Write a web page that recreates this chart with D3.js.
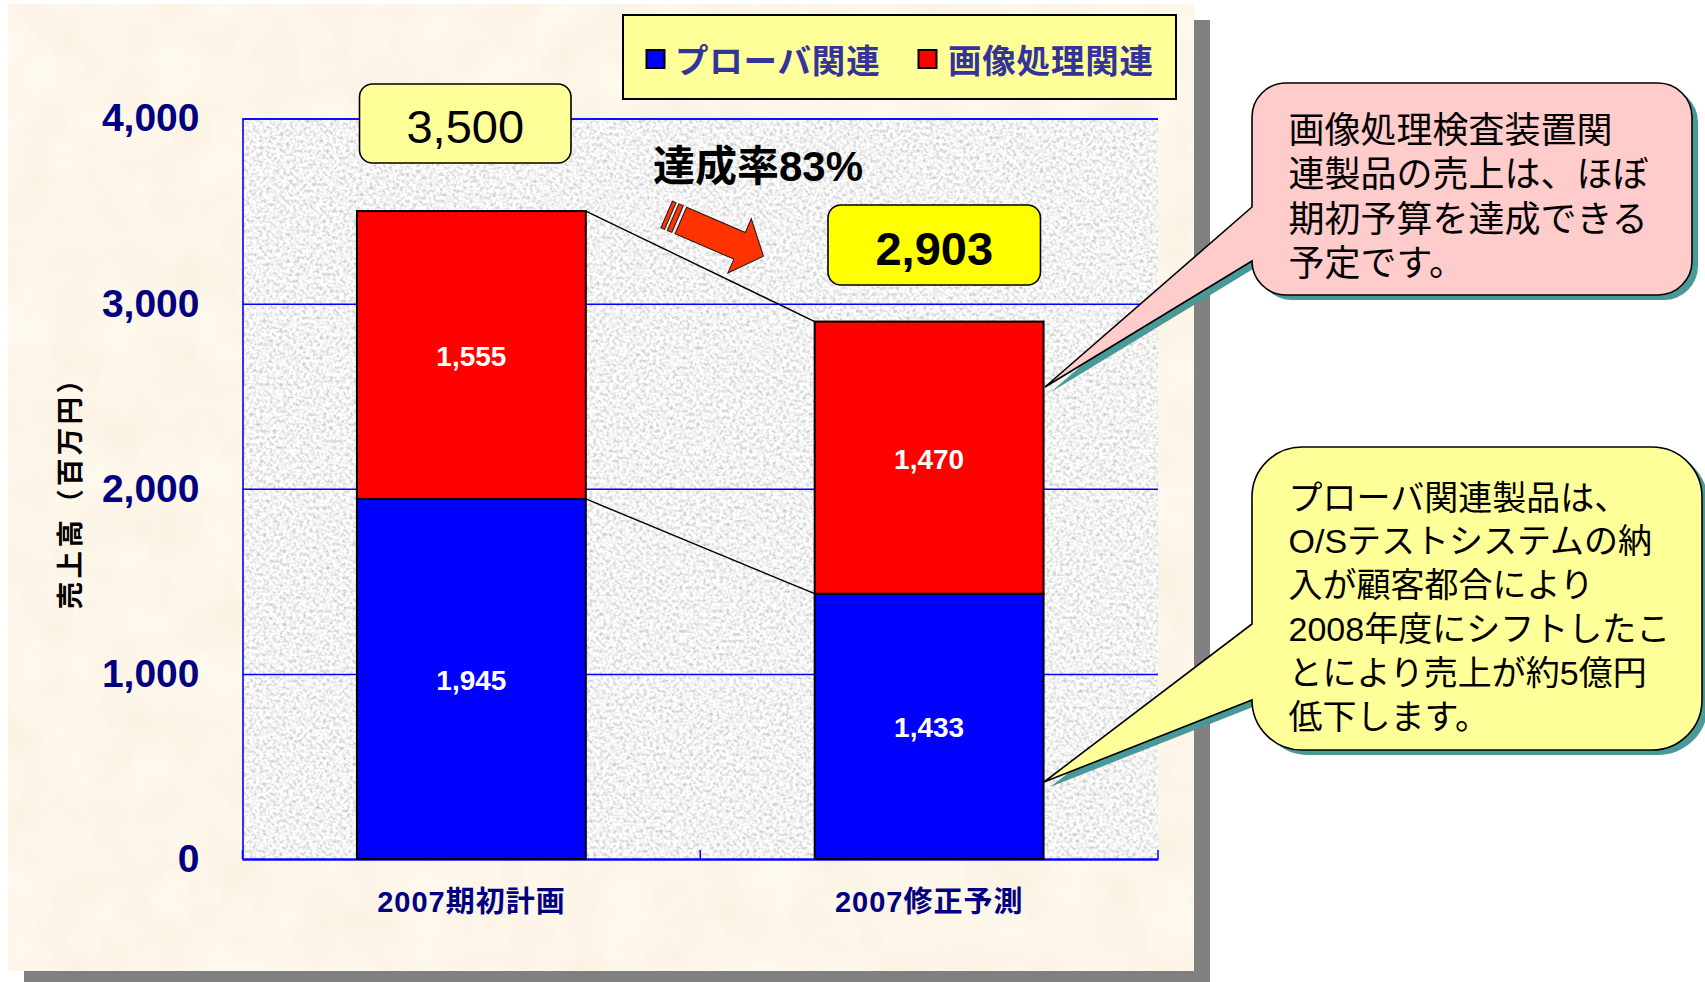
<!DOCTYPE html>
<html>
<head>
<meta charset="utf-8">
<script src="https://cdn.jsdelivr.net/npm/d3@7"></script>
<style>
  html, body { margin: 0; padding: 0; background: #ffffff; }
  svg { display: block; }
</style>
</head>
<body>
<svg id="chart" width="1705" height="982"></svg>
<script>
// ---------------- data ----------------
const categories = ["2007期初計画", "2007修正予測"];
const seriesNames = ["プローバ関連", "画像処理関連"];
const probeValues = [1945, 1433];
const imageValues = [1555, 1470];
const totalValues = [3500, 2903];
const yTickValues = [0, 1000, 2000, 3000, 4000];
const yAxisTitle = "売上高（百万円）";
const rateLabel = "達成率83%";
const noteImageLines = ["画像処理検査装置関", "連製品の売上は、ほぼ", "期初予算を達成できる", "予定です。"];
const noteProbeLines = ["プローバ関連製品は、", "O/Sテストシステムの納", "入が顧客都合により", "2008年度にシフトしたこ", "とにより売上が約5億円", "低下します。"];

// ---------------- styles / layout ----------------
const seriesColors = ["#0000FF", "#FF0000"];
const plot = { left: 242.5, right: 1158, top: 118.5, bottom: 859 };
const latin = "'Liberation Sans', Arial, 'Noto Sans CJK JP', sans-serif";
const cjk = "'Noto Sans CJK JP', 'Liberation Sans', sans-serif";

const svg = d3.select("#chart");
const defs = svg.append("defs");

// textures
const fg = defs.append("filter").attr("id", "granite")
  .attr("x", 0).attr("y", 0).attr("width", "100%").attr("height", "100%");
fg.append("feTurbulence").attr("type", "fractalNoise").attr("baseFrequency", 0.3)
  .attr("numOctaves", 3).attr("seed", 7);
fg.append("feColorMatrix").attr("type", "matrix")
  .attr("values", "0.95 0 0 0 0.42  0.95 0 0 0 0.42  0.95 0 0 0 0.42  0 0 0 0 1");

const fb = defs.append("filter").attr("id", "paper")
  .attr("x", 0).attr("y", 0).attr("width", "100%").attr("height", "100%");
fb.append("feTurbulence").attr("type", "fractalNoise").attr("baseFrequency", 0.02)
  .attr("numOctaves", 3).attr("seed", 3);
fb.append("feColorMatrix").attr("type", "matrix")
  .attr("values", "0.08 0 0 0 0.94  0.10 0 0 0 0.87  0.14 0 0 0 0.74  0 0 0 0 1");

// page panels
svg.append("rect").attr("x", 24).attr("y", 20).attr("width", 1186).attr("height", 980).attr("fill", "#808080");
svg.append("rect").attr("x", 8).attr("y", 4).attr("width", 1186).attr("height", 967)
  .attr("fill", "#FAEBD2").attr("filter", "url(#paper)");

// scales
const x = d3.scaleBand().domain(categories).range([plot.left, plot.right])
  .paddingInner(0.5).paddingOuter(0.25);
const y = d3.scaleLinear().domain([0, 4000]).range([plot.bottom, plot.top]);

// plot background
svg.append("rect").attr("x", plot.left).attr("y", plot.top)
  .attr("width", plot.right - plot.left).attr("height", plot.bottom - plot.top)
  .attr("fill", "#e4e4e4").attr("filter", "url(#granite)");

// y axis with gridlines
const yAxis = svg.append("g").attr("transform", `translate(${plot.left},0)`)
  .call(d3.axisLeft(y).tickValues(yTickValues).tickFormat(d3.format(","))
    .tickSize(-(plot.right - plot.left)).tickPadding(43));
yAxis.select(".domain").attr("stroke", "#0000FF").attr("stroke-width", 1.6);
yAxis.selectAll(".tick line").attr("stroke", "#0000FF").attr("stroke-width", 1.5);
yAxis.selectAll(".tick text").attr("fill", "#000080").attr("font-family", latin)
  .attr("font-weight", "bold").attr("font-size", 39);

// x axis
const xAxis = svg.append("g").attr("transform", `translate(0,${plot.bottom})`)
  .call(d3.axisBottom(x).tickSize(0).tickPadding(0));
xAxis.select(".domain").attr("stroke", "#0000FF").attr("stroke-width", 2);
xAxis.selectAll(".tick text").attr("fill", "#000080").attr("font-family", latin)
  .attr("font-weight", "bold").attr("font-size", 29).attr("letter-spacing", 1)
  .attr("dy", 0).attr("y", 43).attr("dominant-baseline", "central");
// category separator ticks (inside)
const sepTicks = [plot.left, (plot.left + plot.right) / 2, plot.right];
svg.append("g").selectAll("line").data(sepTicks).join("line")
  .attr("x1", d => d).attr("x2", d => d)
  .attr("y1", plot.bottom).attr("y2", plot.bottom - 9)
  .attr("stroke", "#0000FF").attr("stroke-width", 1.5);

// y axis title
svg.append("text").attr("transform", "translate(68,486) rotate(-90)")
  .attr("text-anchor", "middle").attr("dominant-baseline", "central")
  .attr("font-family", cjk).attr("font-weight", "bold").attr("font-size", 27.5)
  .attr("letter-spacing", 3.3)
  .attr("fill", "#000").text(yAxisTitle);

// stacked data
const table = categories.map((c, i) => ({ cat: c, probe: probeValues[i], image: imageValues[i] }));
const stacked = d3.stack().keys(["probe", "image"])(table);

// connector (series) lines
const bw = x.bandwidth();
stacked.forEach(layer => {
  for (let i = 0; i < layer.length - 1; i++) {
    svg.append("line")
      .attr("x1", x(categories[i]) + bw).attr("y1", y(layer[i][1]))
      .attr("x2", x(categories[i + 1])).attr("y2", y(layer[i + 1][1]))
      .attr("stroke", "#000").attr("stroke-width", 1.4);
  }
});

// bars
const gBars = svg.append("g");
stacked.forEach((layer, li) => {
  gBars.selectAll(null).data(layer).join("rect")
    .attr("x", d => x(d.data.cat)).attr("width", bw)
    .attr("y", d => y(d[1])).attr("height", d => y(d[0]) - y(d[1]))
    .attr("fill", seriesColors[li]).attr("stroke", "#000").attr("stroke-width", 2);
  gBars.selectAll(null).data(layer).join("text")
    .attr("x", d => x(d.data.cat) + bw / 2)
    .attr("y", d => (y(d[0]) + y(d[1])) / 2 + 1.5)
    .attr("text-anchor", "middle").attr("dominant-baseline", "central")
    .attr("font-family", latin).attr("font-weight", "bold").attr("font-size", 28)
    .attr("fill", "#fff").text(d => d3.format(",")(d[1] - d[0]));
});

// total boxes
const totalBoxes = [
  { x: 359.5, y: 84, w: 211.5, h: 79, fill: "#FFFF99", weight: "normal" },
  { x: 828, y: 205, w: 212.5, h: 80, fill: "#FFFF00", weight: "bold" }
];
totalBoxes.forEach((b, i) => {
  svg.append("rect").attr("x", b.x).attr("y", b.y).attr("width", b.w).attr("height", b.h)
    .attr("rx", 13).attr("ry", 13).attr("fill", b.fill).attr("stroke", "#000").attr("stroke-width", 1.6);
  svg.append("text").attr("x", b.x + b.w / 2).attr("y", b.y + b.h / 2 + 3)
    .attr("text-anchor", "middle").attr("dominant-baseline", "central")
    .attr("font-family", latin).attr("font-weight", b.weight).attr("font-size", 47)
    .attr("fill", "#000").text(d3.format(",")(totalValues[i]));
});

// legend
svg.append("rect").attr("x", 623).attr("y", 15).attr("width", 553).attr("height", 84)
  .attr("fill", "#FFFF99").attr("stroke", "#000").attr("stroke-width", 2);
const legendItems = [{ sx: 646.5, tx: 675 }, { sx: 918.5, tx: 948 }];
legendItems.forEach((it, i) => {
  svg.append("rect").attr("x", it.sx).attr("y", 50).attr("width", 18).attr("height", 18)
    .attr("fill", seriesColors[i]).attr("stroke", "#000").attr("stroke-width", 2);
  svg.append("text").attr("x", it.tx).attr("y", 58).attr("dominant-baseline", "central")
    .attr("font-family", cjk).attr("font-weight", "bold").attr("font-size", 33.5)
    .attr("letter-spacing", 0.8)
    .attr("fill", "#333399").text(seriesNames[i]);
});

// achievement label and arrow
svg.append("text").attr("x", 653).attr("y", 166).attr("dominant-baseline", "central")
  .attr("font-family", latin).attr("font-weight", "bold").attr("font-size", 42)
  .attr("fill", "#000").text(rateLabel);

const arrow = svg.append("g").attr("transform", "translate(680.8,220.5) rotate(23.3)");
arrow.append("path")
  .attr("d", "M0,-14.5 L64,-14.5 L64,-29.5 L90,0 L64,29.5 L64,14.5 L0,14.5 Z")
  .attr("fill", "#FF3300").attr("stroke", "#1a1a1a").attr("stroke-width", 1);
[[-8.5, 5], [-15.4, 4]].forEach(([u, w]) => {
  arrow.append("rect").attr("x", u).attr("y", -14.5).attr("width", w).attr("height", 29)
    .attr("fill", "#FF3300").attr("stroke", "#1a1a1a").attr("stroke-width", 1);
});

// callouts
function calloutPath(x0, y0, x1, y1, r, p1, p2, tx, ty) {
  return `M${x0},${p1} L${tx},${ty} L${x0},${p2} L${x0},${y1 - r} ` +
    `A${r},${r} 0 0 0 ${x0 + r},${y1} L${x1 - r},${y1} A${r},${r} 0 0 0 ${x1},${y1 - r} ` +
    `L${x1},${y0 + r} A${r},${r} 0 0 0 ${x1 - r},${y0} L${x0 + r},${y0} ` +
    `A${r},${r} 0 0 0 ${x0},${y0 + r} Z`;
}
const callouts = [
  { box: [1252, 83, 1692, 295], r: 34, p: [207, 261], tip: [1045, 387], fill: "#FFCCCC",
    lines: noteImageLines, fs: 36, y0: 130, pitch: 44.6 },
  { box: [1252, 447, 1702, 750], r: 50, p: [624, 700], tip: [1044, 782], fill: "#FFFF99",
    lines: noteProbeLines, fs: 34, y0: 497.5, pitch: 43.9 }
];
callouts.forEach(c => {
  const d = calloutPath(c.box[0], c.box[1], c.box[2], c.box[3], c.r, c.p[0], c.p[1], c.tip[0], c.tip[1]);
  svg.append("path").attr("d", d).attr("transform", "translate(6,5)").attr("fill", "#4A9999");
  svg.append("path").attr("d", d).attr("fill", c.fill).attr("stroke", "#000").attr("stroke-width", 1.6)
    .attr("stroke-linejoin", "miter");
  svg.append("g").selectAll("text").data(c.lines).join("text")
    .attr("x", 1288.5).attr("y", (d, i) => c.y0 + i * c.pitch)
    .attr("dominant-baseline", "central")
    .attr("font-family", latin).attr("font-size", c.fs).attr("fill", "#000").text(d => d);
});
</script>
</body>
</html>
